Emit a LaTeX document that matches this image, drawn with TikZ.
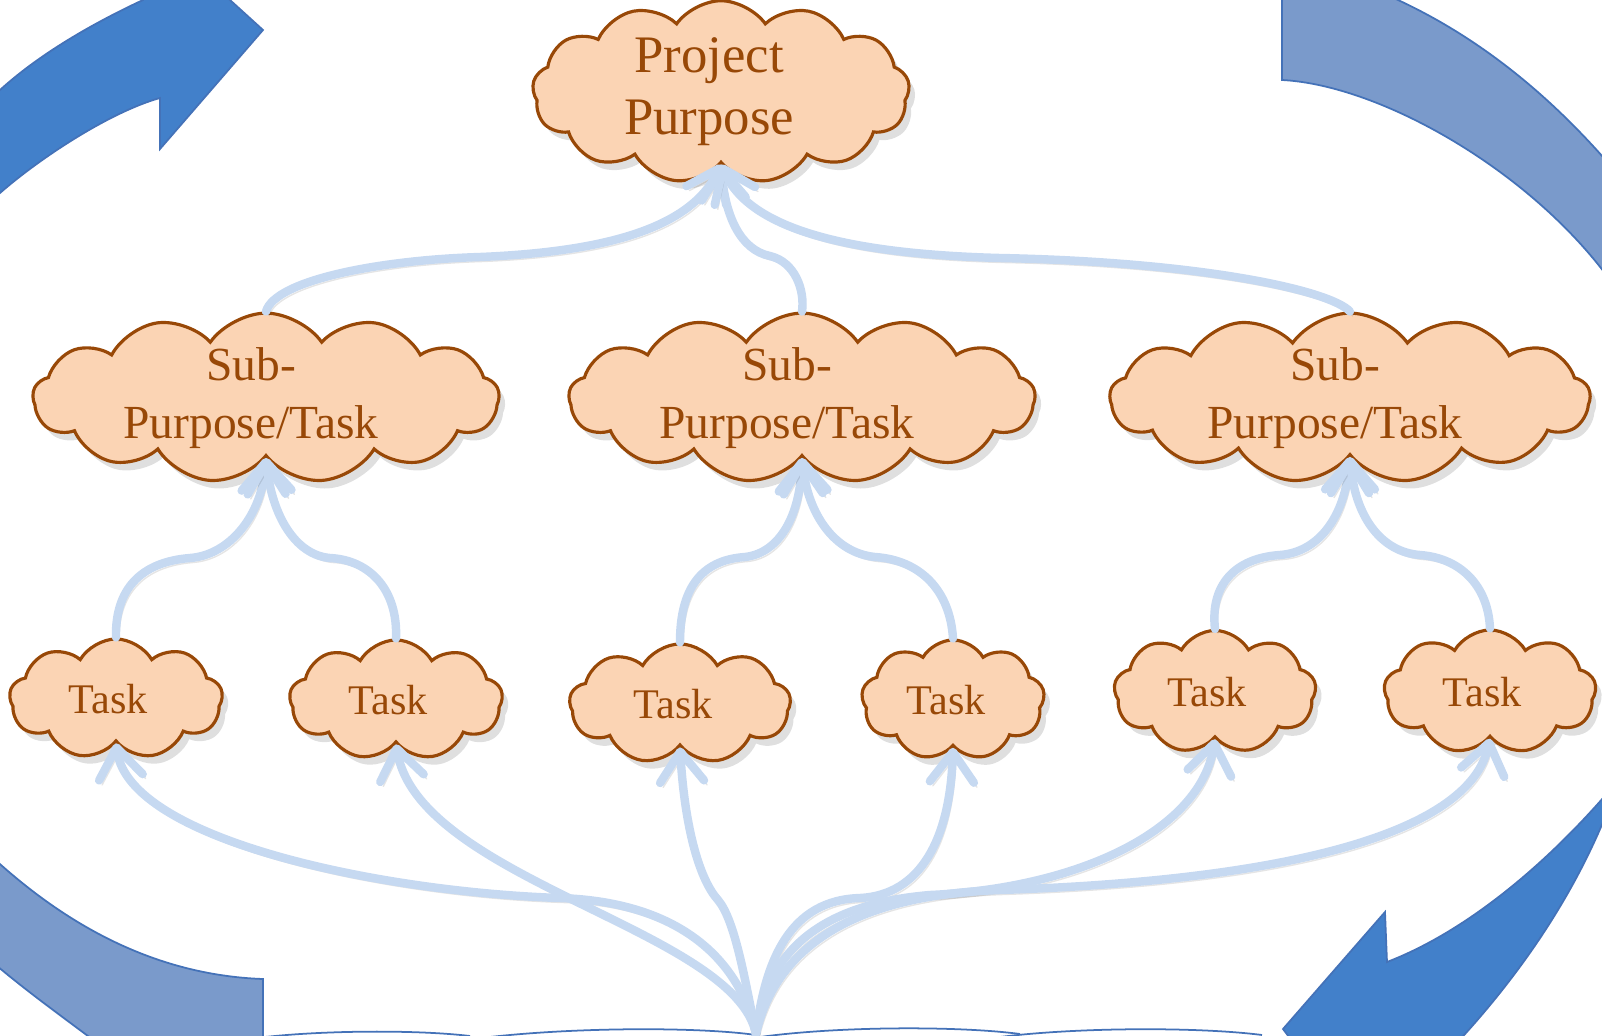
\documentclass[tikz,border=0pt]{standalone}
\usepackage{fontspec}
\setmainfont{Liberation Serif}
\usetikzlibrary{shapes.symbols, arrows.meta, shadows}
\definecolor{cloudfill}{RGB}{251,212,180}
\definecolor{cloudline}{RGB}{152,72,7}
\definecolor{linkblue}{RGB}{198,217,241}
\definecolor{ringdark}{RGB}{66,128,202}
\definecolor{ringlight}{RGB}{122,154,203}
\definecolor{ringedge}{RGB}{68,114,184}

\begin{document}
\begin{tikzpicture}[x=0.01cm, y=-0.01cm]
	\tikzstyle{puff} = [cloud, cloud ignores aspect, cloud puffs=11, cloud puff arc=110, draw=cloudline, line width=0.9pt, fill=cloudfill, text=cloudline, align=center, inner sep=0pt, drop shadow={opacity=0.25, shadow xshift=0.6mm, shadow yshift=-0.8mm}]
	\tikzstyle{link} = [draw=linkblue, line width=2.4pt, line cap=round, -{Straight Barb[length=3mm, width=4.4mm, round]}, preaction={draw=black, opacity=0.1, transform canvas={xshift=0.3mm, yshift=-0.45mm}}]
	\tikzstyle{ring} = [draw=ringedge, line width=0.5pt]

	\useasboundingbox (0,0) rectangle (1602,1036);
	\clip (0,0) rectangle (1602,1036);

	\fill [ring, fill=ringdark] (0,90) .. controls (35,58) and (85,27) .. (143,0) -- (143,-10) -- (219,-10) -- (263,30) -- (160,149) -- (160,98) .. controls (110,112) and (40,158) .. (0,193) -- (-10,200) -- (-10,85) -- cycle;
	\fill [ring, fill=ringlight] (1282,-10) -- (1282,80) .. controls (1380,85) and (1530,170) .. (1610,280) -- (1610,165) .. controls (1545,90) and (1470,30) .. (1380,-8) -- cycle;
	\fill [ring, fill=ringdark] (1610,790) .. controls (1550,860) and (1470,930) .. (1387,962) -- (1385,912) -- (1283,1029) -- (1295,1045) -- (1455,1045) .. controls (1520,975) and (1575,895) .. (1610,805) -- cycle;
	\fill [ring, fill=ringlight] (-10,855) .. controls (60,920) and (150,975) .. (263,979) -- (263,1045) -- (100,1045) .. controls (60,1015) and (25,990) .. (-10,960) -- cycle;
	\draw [ring, draw] (265,1037) .. controls (330,1030) and (420,1030) .. (470,1036);
	\draw [ring, draw] (490,1037) .. controls (580,1027) and (700,1027) .. (756,1035);
	\draw [ring, draw] (760,1037) .. controls (840,1026) and (960,1026) .. (1020,1034);
	\draw [ring, draw] (1000,1037) .. controls (1080,1027) and (1200,1027) .. (1262,1035);

	\node [puff, cloud puffs=13, minimum width=3.77cm, minimum height=1.5cm, font=\fontsize{15}{17.6}\selectfont] (purpose) at (721,92) {Project\hspace*{0.24cm}\\Purpose\hspace*{0.24cm}};
	\tikzstyle{subtask} = [puff, cloud puffs=13, minimum width=4.66cm, minimum height=1.2cm, inner ysep=-0.07cm, font=\fontsize{13.5}{16.5}\selectfont]
	\node [subtask] (subleft) at (266,398) {Sub-\hspace*{0.3cm}\\Purpose/Task\hspace*{0.3cm}};
	\node [subtask] (submiddle) at (802,398) {Sub-\hspace*{0.3cm}\\Purpose/Task\hspace*{0.3cm}};
	\node [subtask, minimum width=4.8cm] (subright) at (1350,398) {Sub-\hspace*{0.3cm}\\Purpose/Task\hspace*{0.3cm}};

	\tikzstyle{task} = [puff, cloud puffs=9, cloud puff arc=120, minimum height=1.2cm, font=\fontsize{12}{14}\selectfont]
	\node [task, minimum width=2.13cm] (task1) at (116,699) {Task\hspace*{0.16cm}};
	\node [task, minimum width=2.13cm] (task2) at (396,700) {Task\hspace*{0.16cm}};
	\node [task, minimum width=2.21cm] (task3) at (680,704) {Task\hspace*{0.14cm}};
	\node [task, minimum width=1.83cm] (task4) at (953,700) {Task\hspace*{0.14cm}};
	\node [task, minimum width=2.02cm, minimum height=1.23cm] (task5) at (1215,692) {Task\hspace*{0.16cm}};
	\node [task, minimum width=2.12cm, minimum height=1.24cm] (task6) at (1490,692) {Task\hspace*{0.16cm}};
	\coordinate (source) at (756,1034);

	\draw [link] (subleft.north) .. controls (275,280) and (380,260) .. (480,257) .. controls (600,252) and (690,230) .. (purpose.south);
	\draw [link] (submiddle.north) .. controls (805,290) and (795,262) .. (770,256) .. controls (740,250) and (725,215) .. (purpose.south);
	\draw [link] (subright.north) .. controls (1330,290) and (1200,262) .. (1000,258) .. controls (850,254) and (750,230) .. (purpose.south);

	\draw [link] (task1.north) .. controls (115,590) and (140,562) .. (190,558) .. controls (230,555) and (262,515) .. (subleft.south);
	\draw [link] (task2.north) .. controls (398,590) and (370,560) .. (330,558) .. controls (295,555) and (272,515) .. (subleft.south);
	\draw [link] (task3.north) .. controls (680,590) and (700,560) .. (745,557) .. controls (780,553) and (800,515) .. (submiddle.south);
	\draw [link] (task4.north) .. controls (950,590) and (920,560) .. (875,557) .. controls (835,553) and (808,515) .. (submiddle.south);
	\draw [link] (task5.north) .. controls (1210,585) and (1235,558) .. (1280,555) .. controls (1320,552) and (1345,515) .. (subright.south);
	\draw [link] (task6.north) .. controls (1488,585) and (1460,558) .. (1420,555) .. controls (1380,552) and (1355,515) .. (subright.south);

	\draw [link] (source) .. controls (740,960) and (680,902) .. (560,898) .. controls (380,892) and (130,840) .. (task1.south);
	\draw [link] (source) .. controls (735,930) and (420,880) .. (task2.south);
	\draw [link] (source) .. controls (745,980) and (735,920) .. (718,900) .. controls (700,880) and (685,830) .. (task3.south);
	\draw [link] (source) .. controls (765,960) and (790,900) .. (860,898) .. controls (920,895) and (950,840) .. (task4.south);
	\draw [link] (source) .. controls (765,960) and (810,905) .. (930,895) .. controls (1080,888) and (1200,830) .. (task5.south);
	\draw [link] (source) .. controls (775,950) and (850,895) .. (1000,890) .. controls (1300,880) and (1470,830) .. (task6.south);
\end{tikzpicture}
\end{document}
